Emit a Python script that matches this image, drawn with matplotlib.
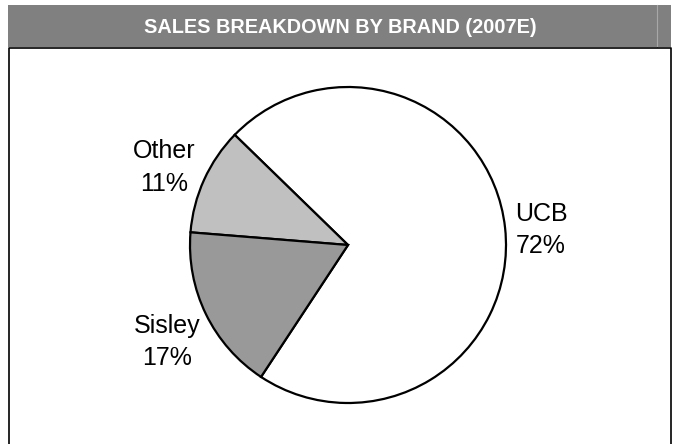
import matplotlib
matplotlib.use('Agg')
import matplotlib.pyplot as plt
from matplotlib.patches import Rectangle
import numpy as np

plt.rcParams['font.family'] = ['Liberation Sans', 'DejaVu Sans']

title = 'SALES BREAKDOWN BY BRAND (2007E)'
brands = ['UCB', 'Other', 'Sisley']
shares = [72, 11, 17]
colors = ['#ffffff', '#c0c0c0', '#999999']
label_dist = [1.225, 1.265, 1.30]
label_nudge = [-1.8, 1.6, 2.2]  # degrees

W, H = 675, 444
fig = plt.figure(figsize=(W / 100, H / 100), dpi=100)
ax = fig.add_axes([0, 0, 1, 1])

# pie
cx, cy, r = 348, H - 245, 158
wedges, _ = ax.pie(shares, colors=colors, startangle=-123.4, counterclock=True,
                   center=(cx, cy), radius=r, frame=True,
                   wedgeprops=dict(edgecolor='black', linewidth=1.6))
ax.set_xlim(0, W)
ax.set_ylim(0, H)
ax.set_aspect('equal')
ax.axis('off')

# header bar + frame
ax.add_patch(Rectangle((8, H - 47), 663, 42, facecolor='#808080', edgecolor='none'))
ax.plot([657, 657], [H - 47, H - 5], color='#a8a8a8', lw=0.8)
ax.plot([9, 9, 671, 671], [0, H - 47.5, H - 47.5, 0], color='black', lw=1.2)
ax.text(340.5, H - 27.5, title, color='white', fontsize=14.3, fontweight='bold',
        ha='center', va='center')

for w, name, val, d, nd in zip(wedges, brands, shares, label_dist, label_nudge):
    ang = np.deg2rad((w.theta1 + w.theta2) / 2 + nd)
    ax.text(cx + d * r * np.cos(ang), cy + d * r * np.sin(ang), f'{name}\n{val}%',
            ha='center', va='center', fontsize=18, linespacing=1.45)

fig.savefig('out.png', dpi=100)
